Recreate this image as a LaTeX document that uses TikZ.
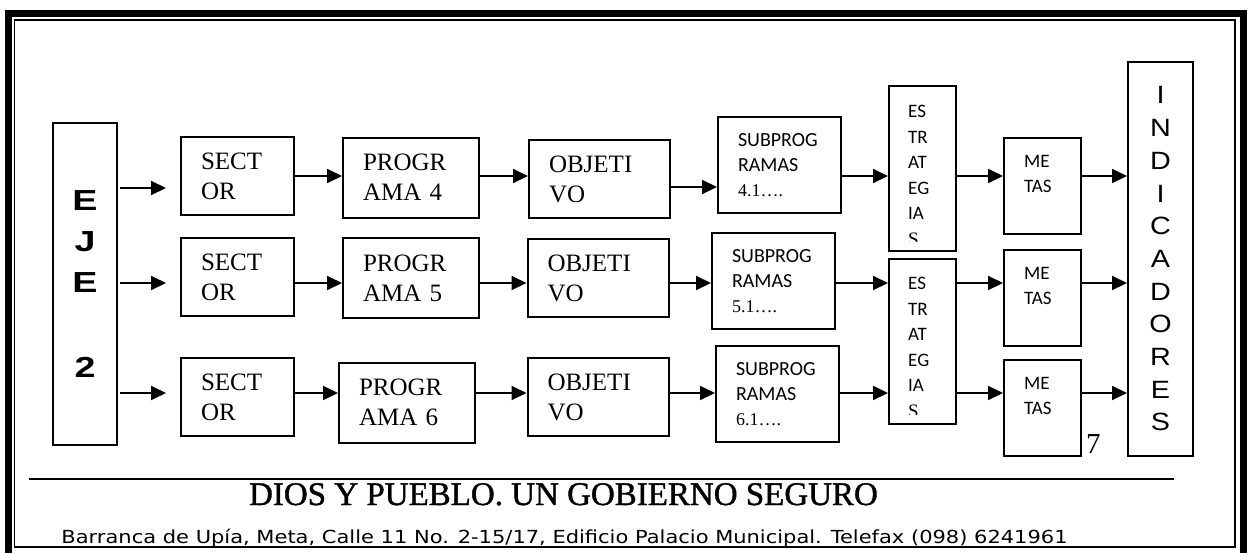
\documentclass[tikz,border=0pt]{standalone}
\usepackage{fontspec}
\setmainfont{Liberation Serif}
\setsansfont{Liberation Sans}
\newfontfamily\calibfont{Carlito}
\newfontfamily\verdfont[FakeStretch=1.166]{DejaVu Sans}
\newfontfamily\ejefont[FakeStretch=1.3]{Liberation Sans}
\newfontfamily\indfont[FakeStretch=1.15]{Liberation Sans}
\newfontfamily\mottofont[FakeBold=1.2]{Liberation Serif}
\usetikzlibrary{arrows.meta}
\tikzstyle{framebox} = [rectangle, draw=black, line width=2pt, inner xsep=20pt, inner ysep=0pt, align=left]
\tikzstyle{sector} = [framebox, text width=73pt, minimum height=78pt, font=\fontsize{25}{30}\selectfont]
\tikzstyle{programa} = [framebox, text width=96pt, minimum height=80pt, font=\fontsize{25}{30}\selectfont]
\tikzstyle{objetivo} = [framebox, text width=101pt, minimum height=78pt, font=\fontsize{25}{30}\selectfont]
\tikzstyle{subprog} = [framebox, text width=83pt, minimum height=96pt, font=\calibfont\fontsize{20}{25}\selectfont]
\tikzstyle{estrat} = [framebox, minimum width=67pt, minimum height=165pt]
\tikzstyle{esttext} = [inner sep=0pt, align=left, anchor=north west, font=\calibfont\fontsize{19}{25.5}\selectfont]
\tikzstyle{metas} = [framebox, text width=37pt, minimum height=96pt, font=\calibfont\fontsize{19}{25}\selectfont]
\tikzstyle{vertbox} = [rectangle, draw=black, line width=2pt, inner sep=0pt, align=center]
\tikzstyle{arrow} = [line width=2pt, -{Triangle[length=15pt,width=14pt]}]

\begin{document}
\begin{tikzpicture}[x=1pt, y=-1pt]
\useasboundingbox (0,0) rectangle (1248,552);
\fill [white] (0,0) rectangle (1248,552);
% page border
\draw [line width=7pt] (8,13.3) rectangle (1243.5,600);
\draw [line width=1.5pt] (14.5,20) rectangle (1235,547);

\node (eje) [vertbox, minimum width=64pt, minimum height=322pt, font=\ejefont\bfseries\fontsize{29}{41}\selectfont] at (85,284) {E\\J\\E\\[44pt]2};

\node (sec1) [sector] at (237.5,176) {SECT\\OR};
\node (sec2) [sector] at (237.5,277) {SECT\\OR};
\node (sec3) [sector] at (237.5,397) {SECT\\OR};
\node (prog1) [programa] at (411,177.5) {PROGR\\AMA 4};
\node (prog2) [programa] at (411,278) {PROGR\\AMA 5};
\node (prog3) [programa] at (407,402.5) {PROGR\\AMA 6};
\node (obj1) [objetivo] at (599.5,179) {OBJETI\\VO};
\node (obj2) [objetivo] at (598,278) {OBJETI\\VO};
\node (obj3) [objetivo] at (598,397) {OBJETI\\VO};
\node (sub1) [subprog] at (779.5,165) {SUBPROG\\RAMAS\\{\rmfamily\fontsize{18}{25}\selectfont 4.1….}};
\node (sub2) [subprog] at (773.5,281) {SUBPROG\\RAMAS\\{\rmfamily\fontsize{18}{25}\selectfont 5.1….}};
\node (sub3) [subprog] at (777.5,394) {SUBPROG\\RAMAS\\{\rmfamily\fontsize{18}{25}\selectfont 6.1….}};

\node (est1) [estrat] at (922.5,168.5) {};
\node (est2) [estrat] at (922.5,341.5) {};
\begin{scope}
\clip ([xshift=1pt,yshift=11pt]est1.south west) rectangle ([xshift=-1pt,yshift=-1pt]est1.north east);
\node (est1txt) [esttext] at ([xshift=20pt,yshift=-20pt]est1.north west) {ES\\TR\\AT\\EG\\IA\\{\rmfamily S}};
\end{scope}
\begin{scope}
\clip ([xshift=1pt,yshift=11pt]est2.south west) rectangle ([xshift=-1pt,yshift=-1pt]est2.north east);
\node (est2txt) [esttext] at ([xshift=20pt,yshift=-19pt]est2.north west) {ES\\TR\\AT\\EG\\IA\\{\rmfamily S}};
\end{scope}

\node (met1) [metas] at (1042.5,186) {ME\\TAS\\\mbox{}};
\node (met2) [metas] at (1042.5,298) {ME\\TAS\\\mbox{}};
\node (met3) [metas] at (1042.5,408) {ME\\TAS\\\mbox{}};

\node (ind) [vertbox, minimum width=65pt, minimum height=394pt, font=\indfont\fontsize{25}{32.7}\selectfont] at (1160.5,259) {I\\N\\D\\I\\C\\A\\D\\O\\R\\E\\S};

\coordinate (row1) at (0,176);
\coordinate (row1e) at (0,188);
\coordinate (row1o) at (0,187);
\coordinate (row2) at (0,283);
\coordinate (row3) at (0,393);

\draw [arrow, shorten <=2pt, shorten >=14pt] (eje.east |- row1e) -- (sec1.west |- row1e);
\draw [arrow] (sec1.east |- row1) -- (prog1.west |- row1);
\draw [arrow] (prog1.east |- row1) -- (obj1.west |- row1);
\draw [arrow] (obj1.east |- row1o) -- (sub1.west |- row1o);
\draw [arrow] (sub1.east |- row1) -- (est1.west |- row1);
\draw [arrow] (est1.east |- row1) -- (met1.west |- row1);
\draw [arrow] (met1.east |- row1) -- (ind.west |- row1);

\draw [arrow, shorten <=2pt, shorten >=14pt] (eje.east |- row2) -- (sec2.west |- row2);
\draw [arrow] (sec2.east |- row2) -- (prog2.west |- row2);
\draw [arrow] (prog2.east |- row2) -- (obj2.west |- row2);
\draw [arrow] (obj2.east |- row2) -- (sub2.west |- row2);
\draw [arrow] (sub2.east |- row2) -- (est2.west |- row2);
\draw [arrow] (est2.east |- row2) -- (met2.west |- row2);
\draw [arrow] (met2.east |- row2) -- (ind.west |- row2);

\draw [arrow, shorten <=2pt, shorten >=14pt] (eje.east |- row3) -- (sec3.west |- row3);
\draw [arrow] (sec3.east |- row3) -- (prog3.west |- row3);
\draw [arrow] (prog3.east |- row3) -- (obj3.west |- row3);
\draw [arrow] (obj3.east |- row3) -- (sub3.west |- row3);
\draw [arrow] (sub3.east |- row3) -- (est2.west |- row3);
\draw [arrow] (est2.east |- row3) -- (met3.west |- row3);
\draw [arrow] (met3.east |- row3) -- (ind.west |- row3);

\node (pag) [anchor=base west, inner sep=0pt, font=\fontsize{29}{29}\selectfont] at (1086,453) {7};

% footer
\draw [line width=1.5pt] (29,479) -- (1174,479);
\node (motto) [anchor=base, font=\mottofont\fontsize{33}{33}\selectfont] at (563.5,505) {DIOS Y PUEBLO. UN GOBIERNO SEGURO};
\node (addr) [anchor=base, font=\verdfont\fontsize{18}{18}\selectfont] at (564.5,543) {Barranca de Upía, Meta, Calle 11 No. 2-15/17, Edificio Palacio Municipal. Telefax (098) 6241961};
\end{tikzpicture}
\end{document}
